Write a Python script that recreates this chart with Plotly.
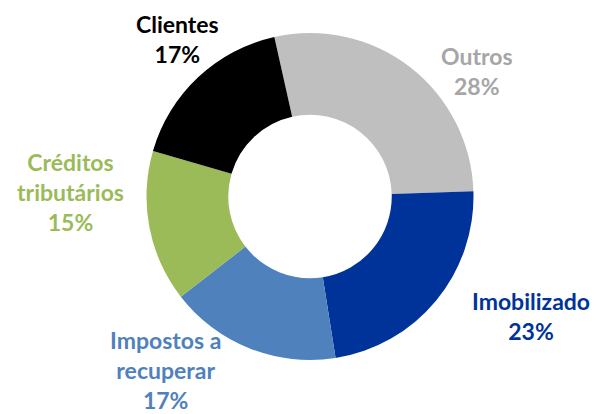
import plotly.graph_objects as go

# Data
categories = ["Outros", "Imobilizado", "Impostos a<br>recuperar", "Créditos<br>tributários", "Clientes"]
values = [28, 23, 17, 15, 17]

# Styles
slice_colors = ["#BFBFBF", "#003399", "#4F81BD", "#9BBB59", "#000000"]
label_colors = ["#A6A6A6", "#003399", "#4F81BD", "#9BBB59", "#000000"]
# label centres in page pixels
label_px = [(477, 71), (531, 316), (165, 370), (70, 192), (177, 39)]

OFF = 8  # page body margin
W, H = 602 - OFF, 414 - OFF
cx, cy, r = 310 - OFF, 196.5 - OFF, 163.5

fig = go.Figure(go.Pie(
    labels=categories,
    values=values,
    hole=0.5,
    sort=False,
    direction="clockwise",
    rotation=-12.6,
    marker=dict(colors=slice_colors, line=dict(width=0)),
    textinfo="none",
    hoverinfo="label+percent",
    domain=dict(x=[(cx - r) / W, (cx + r) / W], y=[(H - cy - r) / H, (H - cy + r) / H]),
    showlegend=False,
))

total = sum(values)
for cat, v, col, (px, py) in zip(categories, values, label_colors, label_px):
    fig.add_annotation(
        x=(px - OFF) / W, y=1 - (py - OFF) / H, xref="paper", yref="paper",
        text=f"<b>{cat}<br>{round(100 * v / total)}%</b>",
        showarrow=False, xanchor="center", yanchor="middle",
        font=dict(family="Lato", size=23, color=col),
        align="center",
    )

fig.update_layout(
    width=W, height=H,
    margin=dict(l=0, r=0, t=0, b=0),
    paper_bgcolor="white", plot_bgcolor="white",
)

fig.write_html("out.html")
